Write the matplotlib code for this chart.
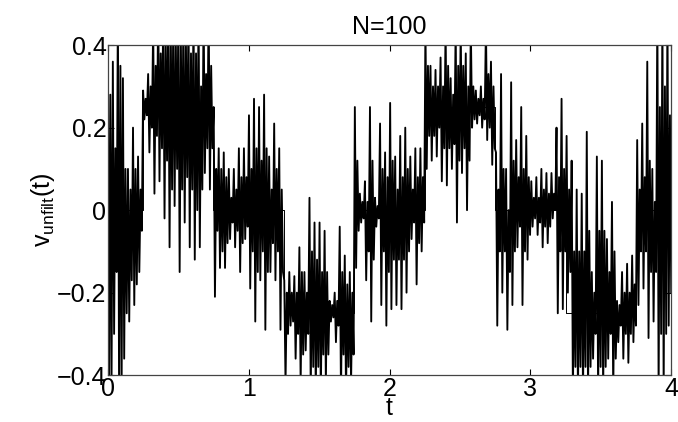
import numpy as np
import matplotlib
matplotlib.use('Agg')
import matplotlib.pyplot as plt

# Unfiltered signal, four samples per 1/28 time step (peak, trough, inner peak, inner trough)
v_unfilt = [
    # t = 0 .. 1
    0.50, -0.50, 0.28, -0.40,
    0.36, -0.30, 0.15, -0.15,
    0.50, -0.50, 0.35, -0.40,
    0.32, -0.36, 0.10, -0.25,
    0.10, -0.27, 0.05, -0.17,
    0.20, -0.23, 0.10, -0.18,
    0.13, -0.15, 0.05, -0.05,
    0.29, 0.22, 0.27, 0.23,
    0.33, 0.14, 0.30, 0.20,
    0.45, 0.04, 0.35, 0.18,
    0.50, 0.07, 0.38, 0.15,
    0.50, -0.02, 0.40, 0.12,
    0.50, -0.09, 0.42, 0.05,
    0.50, 0.01, 0.40, 0.10,
    0.50, -0.15, 0.40, 0.05,
    0.50, -0.03, 0.40, 0.08,
    0.50, -0.09, 0.38, 0.05,
    0.50, -0.12, 0.38, 0.00,
    0.50, -0.09, 0.30, 0.05,
    0.50, 0.09, 0.33, 0.15,
    0.50, 0.05, 0.35, 0.15,
    0.25, -0.21, 0.10, -0.05,
    0.15, -0.14, 0.10, -0.10,
    0.14, -0.14, 0.08, -0.08,
    0.10, -0.07, 0.03, -0.03,
    0.10, -0.09, 0.05, -0.05,
    0.15, -0.15, 0.08, -0.08,
    0.15, -0.07, 0.08, -0.04,
    # t = 1 .. 2
    0.23, -0.19, 0.10, -0.10,
    0.27, -0.27, 0.15, -0.15,
    0.25, -0.17, 0.12, -0.10,
    0.28, -0.29, 0.15, -0.15,
    0.13, -0.15, 0.05, -0.08,
    0.21, -0.17, 0.10, -0.10,
    0.15, -0.29, 0.05, -0.15,
    -0.17, -0.42, -0.20, -0.30,
    -0.15, -0.28, -0.20, -0.27,
    -0.16, -0.36, -0.20, -0.30,
    -0.09, -0.42, -0.15, -0.35,
    -0.15, -0.34, -0.20, -0.30,
    0.03, -0.45, -0.10, -0.38,
    -0.03, -0.45, -0.12, -0.38,
    -0.03, -0.45, -0.15, -0.35,
    -0.05, -0.42, -0.15, -0.35,
    -0.22, -0.27, -0.23, -0.26,
    -0.20, -0.32, -0.22, -0.28,
    -0.04, -0.45, -0.15, -0.35,
    -0.11, -0.45, -0.18, -0.38,
    -0.15, -0.42, -0.20, -0.35,
    0.25, -0.14, 0.12, -0.05,
    0.04, -0.03, 0.02, -0.02,
    0.07, -0.17, 0.02, -0.10,
    0.25, -0.27, 0.12, -0.12,
    0.03, -0.04, 0.01, -0.02,
    0.21, -0.23, 0.10, -0.10,
    0.14, -0.28, 0.08, -0.15,
    # t = 2 .. 3
    0.26, -0.24, 0.12, -0.12,
    0.13, -0.23, 0.05, -0.12,
    0.18, -0.24, 0.08, -0.12,
    0.20, -0.20, 0.10, -0.10,
    0.13, -0.07, 0.05, -0.03,
    0.15, -0.18, 0.08, -0.08,
    0.15, -0.10, 0.08, -0.03,
    0.45, 0.10, 0.35, 0.18,
    0.35, 0.12, 0.30, 0.18,
    0.34, 0.13, 0.30, 0.20,
    0.37, 0.07, 0.30, 0.15,
    0.45, 0.06, 0.35, 0.15,
    0.32, 0.10, 0.28, 0.16,
    0.45, -0.03, 0.35, 0.12,
    0.45, 0.09, 0.35, 0.15,
    0.38, 0.00, 0.30, 0.12,
    0.45, 0.20, 0.30, 0.22,
    0.29, 0.21, 0.27, 0.23,
    0.30, 0.20, 0.27, 0.22,
    0.45, 0.17, 0.33, 0.20,
    0.36, 0.11, 0.30, 0.15,
    0.14, -0.28, 0.05, -0.10,
    0.33, -0.20, 0.10, -0.10,
    0.10, -0.29, 0.00, -0.15,
    0.31, -0.23, 0.12, -0.10,
    0.17, -0.09, 0.08, -0.04,
    0.25, -0.23, 0.10, -0.10,
    0.18, -0.12, 0.08, -0.06,
    # t = 3 .. 4
    0.07, -0.04, 0.03, -0.02,
    0.08, -0.06, 0.03, -0.03,
    0.10, -0.09, 0.05, -0.04,
    0.09, -0.08, 0.04, -0.04,
    0.09, -0.02, 0.04, 0.00,
    0.20, -0.25, 0.08, -0.10,
    0.27, -0.24, 0.10, -0.10,
    0.18, -0.20, 0.05, -0.15,
    0.12, -0.45, -0.10, -0.38,
    0.05, -0.45, -0.10, -0.38,
    0.04, -0.45, -0.10, -0.38,
    0.19, -0.45, -0.05, -0.38,
    -0.15, -0.36, -0.20, -0.30,
    0.13, -0.45, -0.05, -0.38,
    0.12, -0.45, -0.05, -0.38,
    -0.07, -0.36, -0.15, -0.30,
    0.02, -0.45, -0.10, -0.36,
    -0.22, -0.32, -0.23, -0.28,
    -0.15, -0.36, -0.20, -0.30,
    -0.13, -0.37, -0.20, -0.30,
    -0.11, -0.32, -0.18, -0.28,
    0.17, -0.23, 0.05, -0.10,
    0.21, -0.19, 0.08, -0.10,
    0.36, -0.31, 0.12, -0.15,
    0.10, -0.27, 0.02, -0.15,
    0.50, -0.45, 0.25, -0.30,
    0.50, -0.45, 0.30, -0.30,
    0.50, -0.28, 0.23, -0.20,
]

# Underlying trapezoid levels between the switching times
step_times = [0, 0.25, 0.75, 1.25, 1.75, 2.25, 2.75, 3.25, 3.75, 4]
step_levels = [0, 0.25, 0, -0.25, 0, 0.25, 0, -0.25, 0]

t = np.linspace(0, 4, len(v_unfilt))

plt.rcParams['font.family'] = ['Liberation Sans', 'DejaVu Sans']

fig = plt.figure(figsize=(6.78, 4.22), dpi=100)
ax = fig.add_axes([0.159, 0.111, 0.831, 0.782])

ax.step(step_times, step_levels + [step_levels[-1]], where='post', color='black', lw=0.7)
ax.plot(t, v_unfilt, color='black', lw=1.35)

ax.set_xlim(0, 4)
ax.set_ylim(-0.4, 0.4)
ax.set_xticks([0, 1, 2, 3, 4])
ax.set_yticks([-0.4, -0.2, 0, 0.2, 0.4])
ax.set_yticklabels(['\u22120.4', '\u22120.2', '0', '0.2', '0.4'])
ax.tick_params(direction='in', top=True, right=True, labelsize=18, length=4, pad=1)
for s in ax.spines.values():
    s.set_linewidth(0.9)
    s.set_color('#444444')

ax.set_title('N=100', fontsize=18, pad=8)
ax.set_xlabel('t', fontsize=18, labelpad=-3)
ax.set_ylabel(r'v$_{\mathregular{unfilt}}$(t)', fontsize=18, labelpad=0)

fig.savefig('out.png', dpi=100)
